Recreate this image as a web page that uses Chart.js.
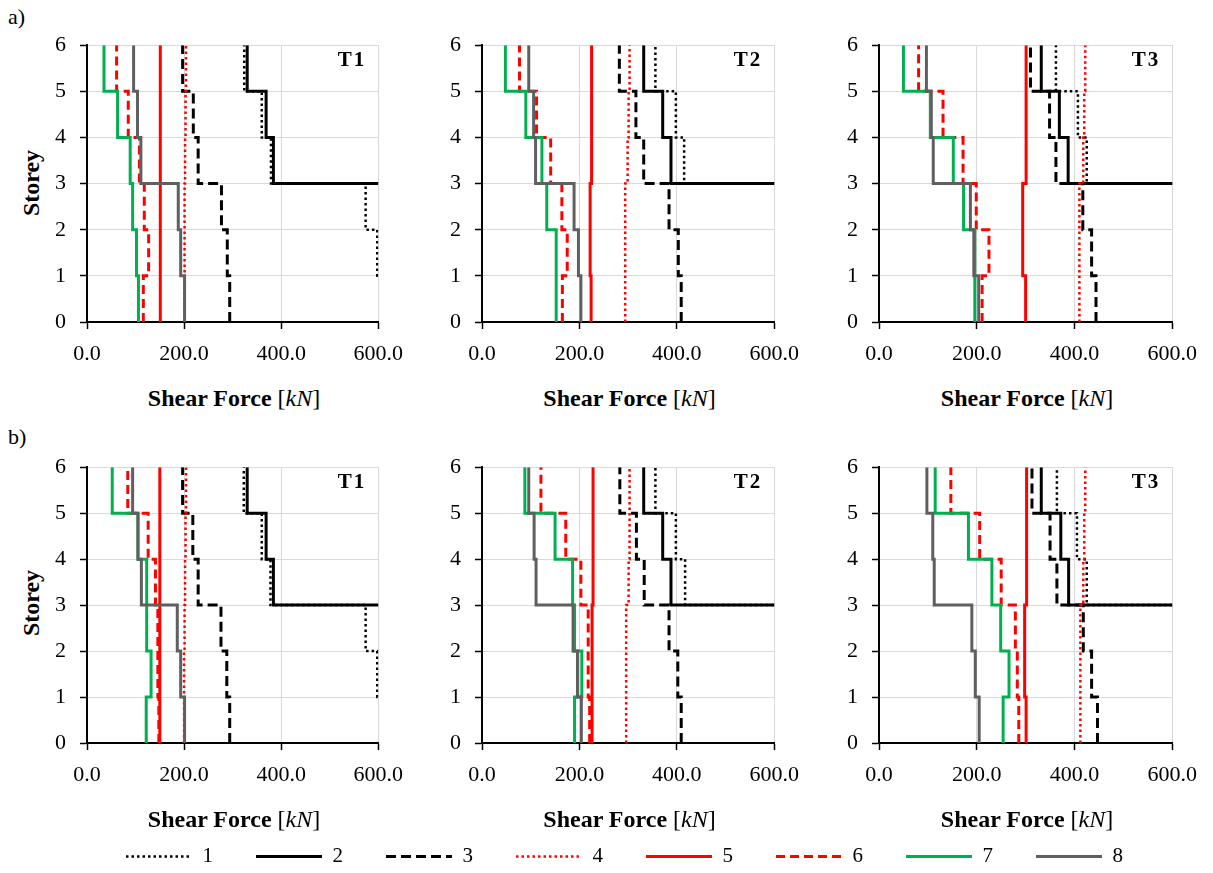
<!DOCTYPE html>
<html>
<head>
<meta charset="utf-8">
<script src="https://cdn.jsdelivr.net/npm/chart.js@4.4.0/dist/chart.umd.min.js"></script>
<style>
  body { margin: 0; width: 1213px; height: 873px; position: relative; overflow: hidden; background: #fff;
         font-family: 'Liberation Serif', 'Times New Roman', serif; color: #000; }
  canvas { position: absolute; }
  .txt { position: absolute; white-space: nowrap; transform: translate(-50%, -50%); }
  .tag { font-size: 22px; transform: none; }
  .axis { font-size: 24px; }
  .axis b { font-weight: bold; }
  .storey { font-size: 24px; font-weight: bold; transform: translate(-50%, -50%) rotate(-90deg); }
  .panel { font-size: 21px; font-weight: bold; letter-spacing: 2px; }
</style>
</head>
<body>
<div class="txt tag" style="left:8px;top:4px">a)</div>
<div class="txt tag" style="left:8px;top:424px">b)</div>
<div class="txt storey" style="left:31px;top:183px">Storey</div>
<div class="txt storey" style="left:31px;top:603px">Storey</div>

<canvas id="aT1"></canvas><canvas id="aT2"></canvas><canvas id="aT3"></canvas>
<canvas id="bT1"></canvas><canvas id="bT2"></canvas><canvas id="bT3"></canvas>
<canvas id="legend" width="1213" height="240" style="left:18px;top:803px"></canvas>

<script>
// storey levels and tick labels
const storeys = [0, 1, 2, 3, 4, 5, 6];
const xTickLabels = ['0.0', '200.0', '400.0', '600.0'];
const seriesNames = ['1', '2', '3', '4', '5', '6', '7', '8'];
const panelNames = ['T1', 'T2', 'T3'];

// shear force per storey (storey 1 at the bottom), one row per series 1..8
const aT1 = [
  [640, 598, 574, 379, 360, 324],
  [700, 700, 700, 384, 369, 330],
  [294, 289, 277, 229, 219, 197],
  [201, 201, 201, 202, 203, 204],
  [151, 151, 151, 151, 151, 151],
  [116, 127, 118, 108, 85, 61],
  [106, 102, 94, 89, 63, 35],
  [201, 193, 188, 111, 104, 96]
];
const aT2 = [
  [700, 700, 700, 415, 398, 356],
  [700, 700, 700, 388, 371, 332],
  [409, 403, 384, 332, 316, 282],
  [294, 294, 294, 299, 301, 303],
  [224, 222, 222, 225, 225, 225],
  [165, 175, 164, 141, 112, 77],
  [153, 152, 133, 123, 90, 48],
  [203, 198, 189, 110, 106, 96]
];
const aT3 = [
  [700, 700, 700, 425, 407, 362],
  [700, 700, 700, 387, 369, 332],
  [444, 435, 417, 362, 349, 310],
  [410, 410, 410, 418, 420, 422],
  [300, 294, 294, 301, 301, 301],
  [211, 225, 199, 172, 131, 81],
  [196, 196, 173, 152, 105, 50],
  [204, 194, 187, 111, 107, 97]
];
const bT1 = [
  [640, 598, 574, 378, 360, 323],
  [700, 700, 700, 384, 369, 330],
  [294, 288, 276, 229, 218, 197],
  [200, 200, 201, 202, 203, 204],
  [150, 150, 150, 150, 150, 150],
  [148, 146, 146, 141, 126, 84],
  [122, 132, 123, 123, 105, 52],
  [201, 193, 186, 112, 105, 94]
];
const bT2 = [
  [700, 700, 700, 417, 398, 356],
  [700, 700, 700, 388, 371, 332],
  [409, 402, 384, 333, 317, 283],
  [296, 296, 296, 301, 303, 303],
  [226, 226, 226, 228, 228, 228],
  [221, 218, 218, 203, 172, 121],
  [190, 205, 190, 186, 150, 88],
  [204, 196, 187, 111, 107, 96]
];
const bT3 = [
  [700, 700, 700, 425, 405, 364],
  [700, 700, 700, 388, 372, 332],
  [447, 435, 418, 364, 350, 313],
  [412, 412, 412, 418, 420, 422],
  [301, 298, 298, 302, 302, 302],
  [286, 283, 279, 250, 206, 147],
  [254, 266, 249, 231, 183, 115],
  [205, 197, 190, 113, 110, 98]
];

const seriesStyle = [
  { color: '#000000', width: 2.5, dash: [2.5, 3] },
  { color: '#000000', width: 3, dash: [] },
  { color: '#000000', width: 3, dash: [10, 5] },
  { color: '#ff0000', width: 2.5, dash: [2.5, 3] },
  { color: '#ff0000', width: 3, dash: [] },
  { color: '#ff0000', width: 3, dash: [9, 5] },
  { color: '#00b050', width: 3, dash: [] },
  { color: '#5f5f5f', width: 3, dash: [] }
];

// chart area corners of each column / row (page pixels)
const colLeft = [87, 482, 879], colRight = [381, 777, 1175];
const rowTop = [33, 455], rowBottom = [322, 743];
const AXIS_W = 60, AXIS_H = 48, PAD_T = 15, PAD_R = 34;

function stepPoints(v) {
  const pts = [];
  v.forEach((val, i) => {
    pts.push({ x: val, y: storeys[i] });
    pts.push({ x: val, y: storeys[i + 1] });
  });
  return pts;
}

const font = { family: "'Liberation Serif', 'Times New Roman', serif", size: 22 };

function makePanel(id, values, row, col) {
  const cv = document.getElementById(id);
  const w = colRight[col] - colLeft[col] + AXIS_W + PAD_R;
  const h = rowBottom[row] - rowTop[row] + PAD_T + AXIS_H;
  cv.width = w; cv.height = h;
  cv.style.left = (colLeft[col] - AXIS_W) + 'px';
  cv.style.top = (rowTop[row] - PAD_T) + 'px';

  new Chart(cv, {
    type: 'scatter',
    data: {
      datasets: values.map((v, i) => ({
        label: seriesNames[i],
        data: stepPoints(v),
        showLine: true,
        borderColor: seriesStyle[i].color,
        borderWidth: seriesStyle[i].width,
        borderDash: seriesStyle[i].dash,
        borderCapStyle: 'butt',
        pointRadius: 0,
        tension: 0,
        fill: false,
        order: values.length - 1 - i
      }))
    },
    options: {
      responsive: false,
      animation: false,
      devicePixelRatio: 1,
      layout: { padding: { top: PAD_T, right: PAD_R, left: 0, bottom: 0 } },
      plugins: { legend: { display: false }, tooltip: { enabled: false } },
      scales: {
        x: {
          type: 'linear', min: 0, max: 600,
          afterFit: s => { s.height = AXIS_H; },
          border: { color: '#000', width: 2 },
          grid: { color: '#d9d9d9', lineWidth: 1, tickLength: 7, tickColor: '#000', tickWidth: 1.5 },
          ticks: { stepSize: 200, padding: 12, color: '#000', font: font, maxRotation: 0,
                   callback: (v, i) => xTickLabels[i] }
        },
        y: {
          type: 'linear', min: 0, max: 6,
          afterFit: s => { s.width = AXIS_W; },
          border: { color: '#000', width: 2 },
          grid: { color: '#d9d9d9', lineWidth: 1, tickLength: 7, tickColor: '#000', tickWidth: 1.5 },
          ticks: { stepSize: 1, padding: 14, color: '#000', font: font, callback: v => storeys[v] }
        }
      }
    }
  });

  // panel tag and axis title as page text
  const tag = document.createElement('div');
  tag.className = 'txt panel';
  tag.textContent = panelNames[col];
  tag.style.left = (colRight[col] - 29) + 'px';
  tag.style.top = (rowTop[row] + 26) + 'px';
  document.body.appendChild(tag);

  const title = document.createElement('div');
  title.className = 'txt axis';
  title.innerHTML = '<b>Shear Force </b>[<i>kN</i>]';
  title.style.left = ((colLeft[col] + colRight[col]) / 2) + 'px';
  title.style.top = (rowBottom[row] + 76) + 'px';
  document.body.appendChild(title);
}

makePanel('aT1', aT1, 0, 0);
makePanel('aT2', aT2, 0, 1);
makePanel('aT3', aT3, 0, 2);
makePanel('bT1', bT1, 1, 0);
makePanel('bT2', bT2, 1, 1);
makePanel('bT3', bT3, 1, 2);

// shared legend under the panels
new Chart(document.getElementById('legend'), {
  type: 'scatter',
  data: { datasets: seriesNames.map(n => ({ label: n, data: [] })) },
  options: {
    responsive: false,
    animation: false,
    devicePixelRatio: 1,
    scales: { x: { display: false }, y: { display: false } },
    plugins: {
      tooltip: { enabled: false },
      legend: {
        display: true,
        position: 'top',
        align: 'center',
        labels: {
          usePointStyle: true,
          pointStyle: 'line',
          pointStyleWidth: 66,
          padding: 43,
          color: '#000',
          font: { family: "'Liberation Serif', 'Times New Roman', serif", size: 21 },
          generateLabels: () => seriesNames.map((n, i) => ({
            text: n,
            strokeStyle: seriesStyle[i].color,
            fillStyle: 'rgba(0,0,0,0)',
            lineWidth: seriesStyle[i].width,
            lineDash: seriesStyle[i].dash,
            lineCap: 'butt',
            pointStyle: 'line',
            hidden: false,
            datasetIndex: i,
            fontColor: '#000'
          }))
        }
      }
    }
  }
});
</script>
</body>
</html>
